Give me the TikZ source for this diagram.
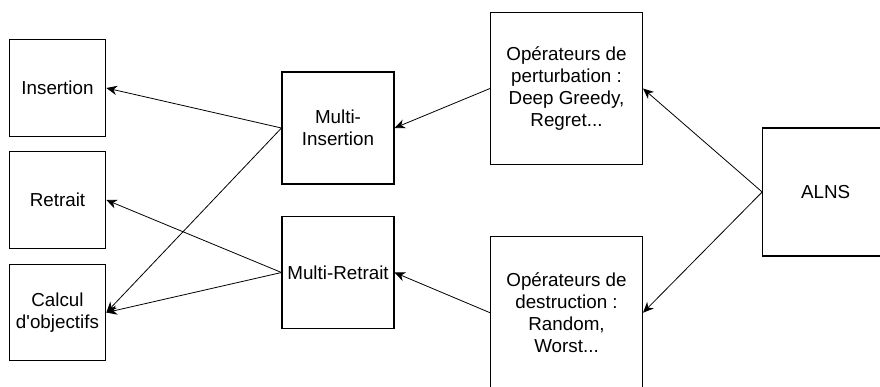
\documentclass[tikz,border=0pt]{standalone}
\usepackage{fontspec}
\setmainfont{Liberation Sans}
\usetikzlibrary{arrows.meta}

\begin{document}
\begin{tikzpicture}[x=0.75pt,y=-0.75pt,font=\fontsize{14.1}{16.7}\selectfont,
  box/.style={draw,line width=0.8pt,align=center,inner sep=0pt,minimum size=#1},
  arr/.style={-{Stealth[length=8pt,width=7pt]},line width=0.6pt}]
  \useasboundingbox (0,0) rectangle (880,386);
  \node[box=72.5pt] (ins) at (57.5,88) {Insertion};
  \node[box=72.5pt] (ret) at (57.5,200) {Retrait};
  \node[box=72.5pt] (calc) at (57.5,312.5) {Calcul\\d\textquotesingle objectifs};
  \node[box=84pt] (mins) at (338,128) {Multi-\\Insertion};
  \node[box=84pt] (mret) at (338,272.5) {Multi-Retrait};
  \node[box=114pt] (pert) at (566.5,88.5) {Opérateurs de\\perturbation :\\Deep Greedy,\\Regret...};
  \node[box=114pt] (destr) at (566.5,312.7) {Opérateurs de\\destruction :\\Random,\\Worst...};
  \node[box=96pt,minimum width=94.5pt] (alns) at (825.7,192) {ALNS};
  \draw[arr] (alns.west) -- (pert.east);
  \draw[arr] (alns.west) -- (destr.east);
  \draw[arr] (pert.west) -- (mins.east);
  \draw[arr] (destr.west) -- (mret.east);
  \draw[arr] (mins.west) -- (ins.east);
  \draw[arr] (mins.west) -- (calc.east);
  \draw[arr] (mret.west) -- (ret.east);
  \draw[arr] (mret.west) -- (calc.east);
\end{tikzpicture}
\end{document}
